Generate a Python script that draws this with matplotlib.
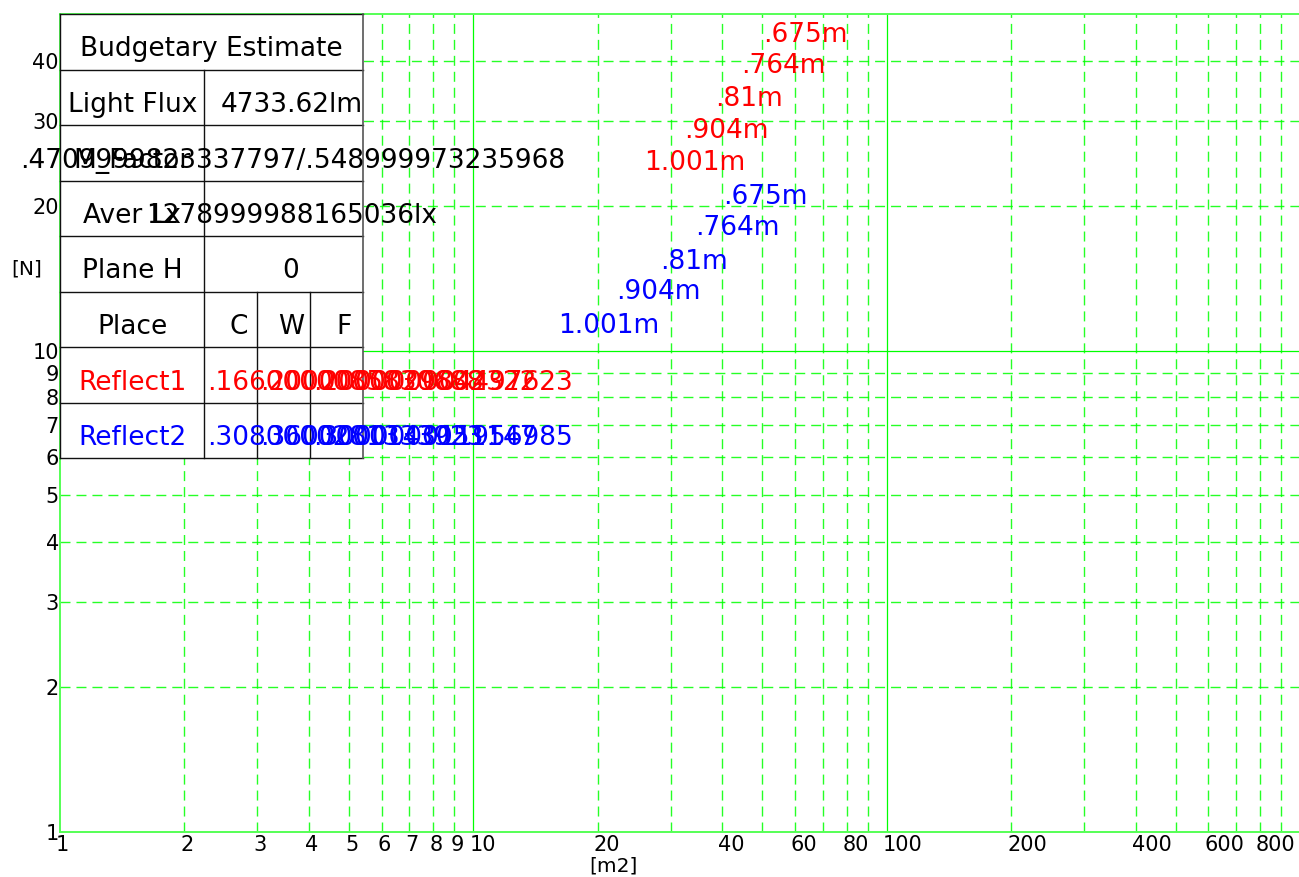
import matplotlib
matplotlib.use("Agg")
import matplotlib.pyplot as plt
from matplotlib.patches import Rectangle
from matplotlib.ticker import NullLocator
import matplotlib.transforms as mtransforms

plt.rcParams['font.family'] = ['DejaVu Sans']

# ---------------- data ----------------
x_ticks = [1, 2, 3, 4, 5, 6, 7, 8, 9, 10, 20, 40, 60, 80, 100, 200, 400, 600, 800]
x_tick_labels = [str(v) for v in x_ticks]
y_ticks = [1, 2, 3, 4, 5, 6, 7, 8, 9, 10, 20, 30, 40]
y_tick_labels = [str(v) for v in y_ticks]

heights = [".675m", ".764m", ".81m", ".904m", "1.001m"]
red_x = [50.2, 44.4, 38.4, 32.3, 25.9]
red_y = [43.7, 37.7, 32.2, 27.6, 23.7]
blue_x = [40.2, 34.4, 28.3, 22.1, 16.0]
blue_y = [20.2, 17.4, 14.8, 12.8, 10.9]

table_title = "Budgetary Estimate"
row_names = ["Light Flux", "M_Factor", "Aver Lx", "Plane H"]
row_values = ["4733.62lm", ".4709999823337797/.548999973235968", "1278999988165036lx", "0"]
place_header = ["Place", "C", "W", "F"]
reflect1 = ["Reflect1", ".1660000085830688", ".2000000029802322", ".200000004497623"]
reflect2 = ["Reflect2", ".3080000281333923", ".3600000143051147", ".300000011956985"]

x_label = "[m2]"
y_label = "[N]"

# ---------------- figure ----------------
W, H = 1299, 877
fig = plt.figure(figsize=(W / 100, H / 100), dpi=100)
L, R, T, B = 60, 1300, 14, 832
ax = fig.add_axes([L / W, (H - B) / H, (R - L) / W, (B - T) / H])
ax.set_xscale('log')
ax.set_yscale('log')
ax.set_xlim(1, 1000)
ax.set_ylim(1, 50)

green = '#00ff00'
# grid
for d in [1, 10, 100]:
    for k in range(1, 10):
        v = k * d
        if v <= 1 or v >= 1000:
            continue
        if k == 1:
            ax.axvline(v, color=green, lw=0.9, zorder=1)
        else:
            ax.axvline(v, color=green, lw=1.0, ls=(0, (7.2, 4.3)), alpha=0.85, zorder=1)
for d in [1, 10]:
    for k in range(1, 10):
        v = k * d
        if v <= 1 or v >= 50:
            continue
        if k == 1:
            ax.axhline(v, color=green, lw=0.9, zorder=1)
        else:
            ax.axhline(v, color=green, lw=1.0, ls=(0, (7.2, 4.3)), alpha=0.85, zorder=1)

for s in ['left', 'bottom', 'top']:
    ax.spines[s].set_color('#55ff55')
    ax.spines[s].set_linewidth(1.4)
ax.spines['right'].set_visible(False)

ax.set_xticks(x_ticks)
ax.set_xticklabels(x_tick_labels)
ax.set_yticks(y_ticks)
ax.set_yticklabels(y_tick_labels)
ax.xaxis.set_minor_locator(NullLocator())
ax.yaxis.set_minor_locator(NullLocator())
ax.tick_params(axis='both', length=0, labelsize=15, colors='black')
ax.tick_params(axis='x', pad=2.5)
ax.tick_params(axis='y', pad=0.8)
off = mtransforms.ScaledTranslation(-4 / 100, 0, fig.dpi_scale_trans)
for lbl in ax.get_xticklabels():
    lbl.set_horizontalalignment('left')
    lbl.set_transform(lbl.get_transform() + off)

# height labels
for xv, yv, t in zip(red_x, red_y, heights):
    ax.text(xv, yv, t, color='red', fontsize=19, ha='left', va='baseline', zorder=5)
for xv, yv, t in zip(blue_x, blue_y, heights):
    ax.text(xv, yv, t, color='blue', fontsize=19, ha='left', va='baseline', zorder=5)

fig.text(27 / W, 1 - 269 / H, y_label, fontsize=14.5, ha='center', va='center')
fig.text(613 / W, 1 - 866 / H, x_label, fontsize=14.5, ha='center', va='center')

# ---------------- table overlay (pixel coordinates) ----------------
tax = fig.add_axes([0, 0, 1, 1], zorder=10)
tax.set_xlim(0, W)
tax.set_ylim(H, 0)
tax.axis('off')
tax.patch.set_alpha(0)

c0, c1, c2, c3, c4 = 60, 204.5, 257.5, 310.5, 363.5
rows = [14 + 55.5 * i for i in range(9)]
tax.add_patch(Rectangle((c0, rows[0]), c4 - c0, rows[-1] - rows[0],
                        facecolor='white', edgecolor='none', zorder=1))
lc = '#111111'
for r in rows:
    tax.plot([c0, c4], [r, r], color=lc, lw=1.0, zorder=2)
tax.plot([c0, c0], [rows[0], rows[-1]], color=lc, lw=1.0, zorder=2)
tax.plot([c4, c4], [rows[0], rows[-1]], color='#555555', lw=1.2, zorder=2)
tax.plot([c1, c1], [rows[1], rows[-1]], color=lc, lw=1.0, zorder=2)
for cx in [c2, c3]:
    tax.plot([cx, cx], [rows[5], rows[-1]], color=lc, lw=1.0, zorder=2)

fs = 19
def base(i):
    return rows[i + 1] - 13

tax.text((c0 + c4) / 2, base(0), table_title, fontsize=fs, ha='center', va='baseline', zorder=3)
col1_c = (c0 + c1) / 2
val_cx = [292, 293, 292, 291]
for i, (n, v) in enumerate(zip(row_names, row_values)):
    tax.text(col1_c, base(i + 1), n, fontsize=fs, ha='center', va='baseline', zorder=3)
    tax.text(val_cx[i], base(i + 1), v, fontsize=fs, ha='center', va='baseline', zorder=3)

tax.text(col1_c, base(5), place_header[0], fontsize=fs, ha='center', va='baseline', zorder=3)
for cx, t in zip([238.5, 291.5, 344.5], place_header[1:]):
    tax.text(cx, base(5), t, fontsize=fs, ha='center', va='baseline', zorder=3)

for ri, (row, col) in enumerate([(reflect1, 'red'), (reflect2, 'blue')]):
    b = base(6 + ri)
    tax.text(col1_c, b, row[0], fontsize=fs, ha='center', va='baseline', color=col, zorder=3)
    for lx, t in zip([c1 + 2.5, c2 + 2.5, c3 + 2.5], row[1:]):
        tax.text(lx, b, t, fontsize=fs, ha='left', va='baseline', color=col, zorder=3)

fig.savefig('out.png', dpi=100)
